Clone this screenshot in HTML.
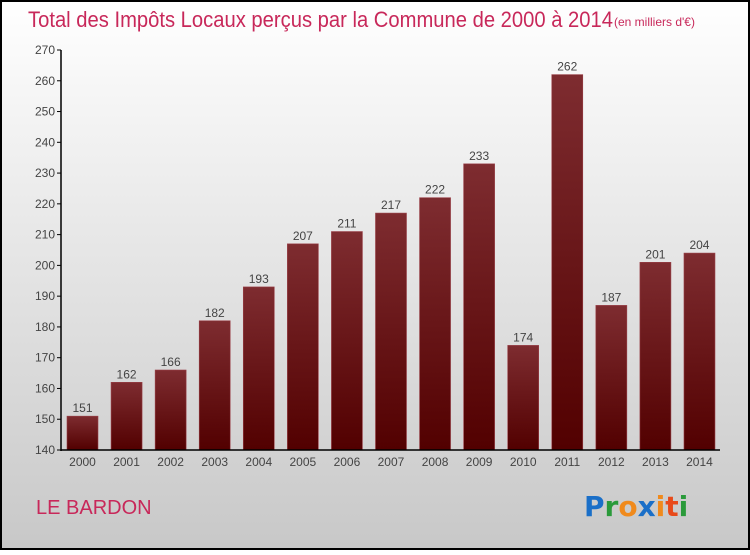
<!DOCTYPE html>
<html><head><meta charset="utf-8"><style>
html,body{margin:0;padding:0}
body{width:750px;height:550px;overflow:hidden;font-family:"Liberation Sans",sans-serif}
</style></head><body>
<svg width="750" height="550" xmlns="http://www.w3.org/2000/svg">
<defs>
<linearGradient id="bg" x1="0" y1="0" x2="0" y2="1"><stop offset="0" stop-color="#ffffff"/><stop offset="1" stop-color="#c8c8c8"/></linearGradient>
<linearGradient id="bar" x1="0" y1="0" x2="0" y2="1"><stop offset="0" stop-color="#7e2c30"/><stop offset="1" stop-color="#520000"/></linearGradient>
</defs>
<rect x="1" y="1" width="748" height="548" fill="url(#bg)" stroke="#000" stroke-width="2"/>
<text x="28" y="27" font-size="22" fill="#c8285a" textLength="585" lengthAdjust="spacingAndGlyphs">Total des Impôts Locaux perçus par la Commune de 2000 à 2014</text>
<text x="614" y="26" font-size="12" fill="#c8285a">(en milliers d'€)</text>
<g id="yaxis"></g>
<g id="bars"></g>
<line x1="61" y1="50" x2="61" y2="451" stroke="#000" stroke-width="1.5"/>
<line x1="61" y1="450" x2="720" y2="450" stroke="#000" stroke-width="1.5"/>
<text x="36" y="514" font-size="20" fill="#c8285a">LE BARDON</text>
<g font-size="28" font-weight="bold" font-family="'DejaVu Sans',sans-serif">
<text x="584" y="516"><tspan fill="#1a6fc8">P</tspan><tspan fill="#2a9a3a">r</tspan><tspan fill="#f08a1c">o</tspan><tspan fill="#1a6fc8">x</tspan><tspan fill="#f08a1c">i</tspan><tspan fill="#e84a1a">t</tspan><tspan fill="#2a9a3a">i</tspan></text>
</g>
</svg>
<script>
const years=["2000","2001","2002","2003","2004","2005","2006","2007","2008","2009","2010","2011","2012","2013","2014"];
const values=[151,162,166,182,193,207,211,217,222,233,174,262,187,201,204];
const yTicks=[140,150,160,170,180,190,200,210,220,230,240,250,260,270];
const NS="http://www.w3.org/2000/svg";
function y(v){return 450-(v-140)*400/130;}
function x(i){return 67+i*44.07;}
const ya=document.getElementById('yaxis'),bg=document.getElementById('bars');
function mk(tag,attrs,parent){const e=document.createElementNS(NS,tag);for(const k in attrs)e.setAttribute(k,attrs[k]);parent.appendChild(e);return e;}
yTicks.forEach(t=>{
  const l=mk('line',{x1:57,x2:61,y1:y(t),y2:y(t),stroke:'#000'},ya);
  
  
  const tx=mk('text',{x:55,y:y(t)+4,'font-size':12,fill:'#444','text-anchor':'end'},ya);
  tx.textContent=t;
  
  
});
values.forEach((v,i)=>{
  const r=mk('rect',{x:x(i),y:y(v),width:31,height:450-y(v),fill:'url(#bar)',stroke:'#9a4048','stroke-width':0.6},bg);
  
  
  const vl=mk('text',{x:x(i)+15.5,y:y(v)-4,'font-size':12,fill:'#444','text-anchor':'middle'},bg);
  vl.textContent=v;
  
  
  const xl=mk('text',{x:x(i)+15.5,y:466,'font-size':12,fill:'#444','text-anchor':'middle'},bg);
  xl.textContent=years[i];
  
  
});
</script>
</body></html>
